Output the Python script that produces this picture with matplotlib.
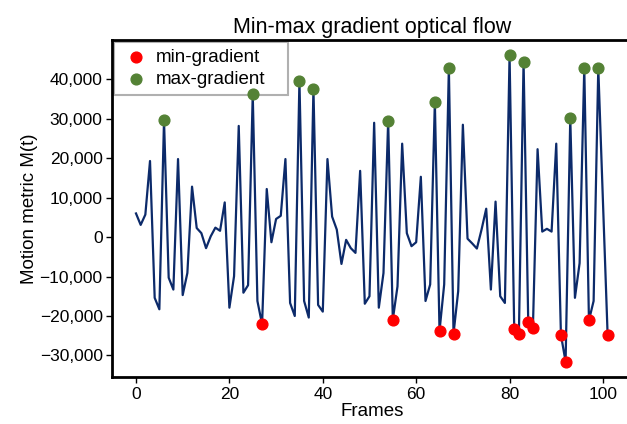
import matplotlib
matplotlib.use("Agg")
import matplotlib.pyplot as plt
import matplotlib.ticker as mticker
import numpy as np

plt.rcParams["font.family"] = ["Liberation Sans", "DejaVu Sans"]

# Motion metric per frame (frames 0..101)
motion = [
    6000, 3100, 5700, 19300, -15400, -18300, 29600, -10300, -13300, 19800,
    -14700, -9100, 12800, 2300, 1000, -2800, 200, 2400, 1600, 8800,
    -17900, -9900, 28200, -14100, -12200, 36200, -16200, -22100, 12200, -1300,
    4600, 5400, 19800, -16700, -20000, 39700, -16200, -20400, 37600, -17200,
    -18900, 19800, 5200, 1900, -6800, -700, -2800, -4000, 16800, -16900,
    -15000, 29000, -17900, -9100, 29400, -20900, -12500, 23700, 1000, -2300,
    -1300, 15300, -16200, -12000, 34300, -23800, -12000, 42900, -24500, -13700,
    28500, -400, -1600, -2900, 1900, 7200, -13300, 9000, -15000, -16700,
    46100, -23400, -24500, 44500, -21500, -23000, 22300, 1400, 2100, 1400,
    23700, -24800, -31600, 30200, -15400, -6600, 42900, -21100, -16200, 42900,
    9000, -24800,
]
frames = list(range(len(motion)))

min_frames = [27, 55, 65, 68, 81, 82, 84, 85, 91, 92, 97, 101]
max_frames = [6, 25, 35, 38, 54, 64, 67, 80, 83, 93, 96, 99]

LINE_COLOR = "#0c2a6a"
MIN_COLOR = "#ff0000"
MAX_COLOR = "#548235"


def main() -> None:
    fig = plt.figure(figsize=(6.27, 4.24), dpi=100)
    ax = fig.add_axes([0.1793, 0.1108, 0.8274, 0.7948])

    ax.plot(frames, motion, color=LINE_COLOR, linewidth=1.6, zorder=2)
    ax.scatter(min_frames, [motion[f] for f in min_frames], color=MIN_COLOR, s=60,
               zorder=3, label="min-gradient")
    ax.scatter(max_frames, [motion[f] for f in max_frames], color=MAX_COLOR, s=60,
               zorder=3, label="max-gradient")

    ax.set_title("Min-max gradient optical flow", fontsize=15.5, pad=5)
    ax.set_xlabel("Frames", fontsize=13.5, labelpad=1)
    ax.set_ylabel("Motion metric M(t)", fontsize=13.5, labelpad=1)
    ax.yaxis.set_major_formatter(mticker.FuncFormatter(lambda v, _: f"{v:,.0f}".replace("-", "\u2212")))
    ax.set_yticks(np.arange(-30000, 40001, 10000))
    ax.set_xticks([0, 20, 40, 60, 80, 100])
    ax.tick_params(labelsize=12.5, width=1, length=4.5, pad=2.5)
    for spine in ax.spines.values():
        spine.set_linewidth(2)

    leg = ax.legend(loc="upper left", bbox_to_anchor=(0.0, 1.0, 0.342, 0.0), mode="expand",
                    fontsize=13.5, fancybox=False, framealpha=1,
                    edgecolor="#b0b0b0", borderaxespad=0.1, handletextpad=0.25,
                    handlelength=1.6, labelspacing=0.25, borderpad=0.38)
    leg.get_frame().set_linewidth(1.5)
    leg.set_zorder(1.5)

    fig.savefig("out.png", dpi=100)


if __name__ == "__main__":
    main()
